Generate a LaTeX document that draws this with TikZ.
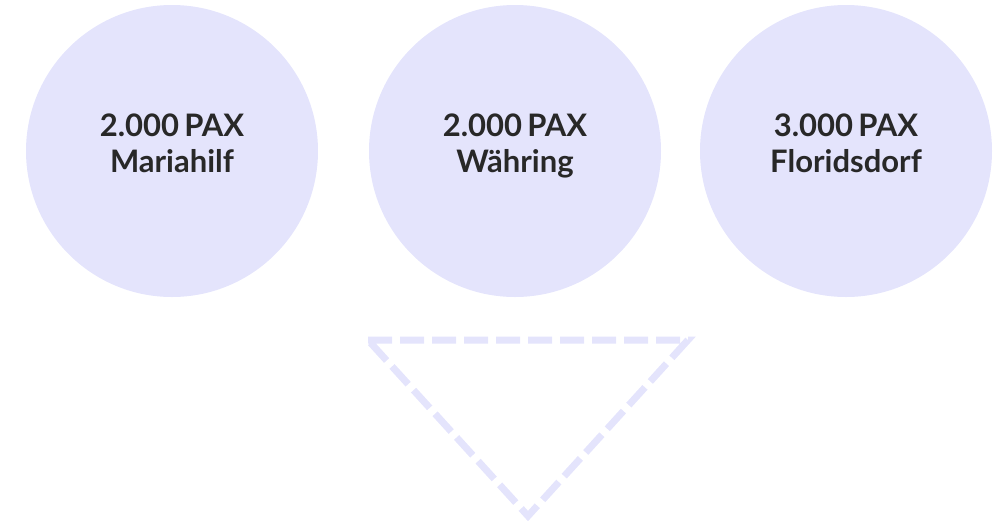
\documentclass[tikz,border=0pt]{standalone}
\usepackage{xcolor}
\usepackage{fontspec}
\usepackage{tikz}
\setmainfont{Lato}
\definecolor{myLavender}{RGB}{228,228,252}
\definecolor{myDark}{RGB}{40,40,40}
\newcommand{\topstrut}{\rule{0pt}{25pt}}
\newcommand{\botstrut}{\rule[-19pt]{0pt}{19pt}}

\begin{document}
\begin{tikzpicture}[x=1pt,y=-1pt,semithick]
  \tikzstyle{district}=[circle,fill=myLavender,draw=none,minimum size=292pt,inner sep=0pt,
    align=center,text=myDark,font=\fontsize{31}{36}\selectfont\bfseries]
  \tikzstyle{funnel}=[draw=myLavender,line width=7pt,dash pattern=on 24pt off 8pt]

  \useasboundingbox (0,0) rectangle (1005,523);

  \node[district] (1) at (172,151) {\topstrut 2.000\,PAX\\Mariahilf\botstrut};
  \node[district] (2) at (515,151) {\topstrut 2.000\,PAX\\Währing\botstrut};
  \node[district] (3) at (846,151) {\topstrut 3.000\,PAX\\Floridsdorf\botstrut};

  \coordinate (tl) at (368,340);
  \coordinate (tr) at (688,340);
  \coordinate (tb) at (528,516);

  \draw[funnel] (tl) -- (tr) -- (tb) -- cycle;
\end{tikzpicture}
\end{document}
